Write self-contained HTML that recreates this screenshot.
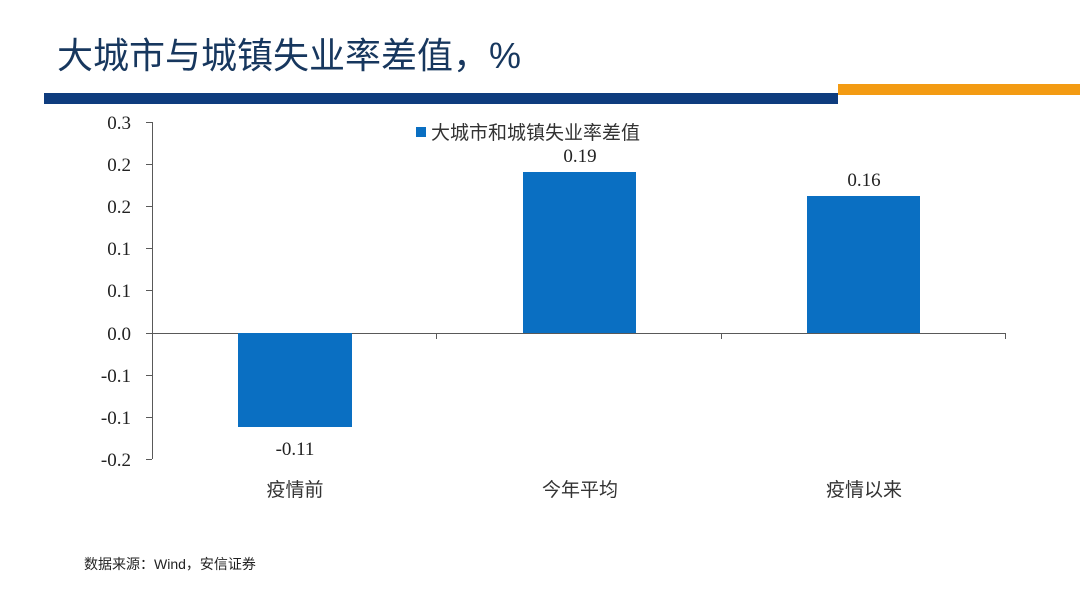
<!DOCTYPE html>
<html><head><meta charset="utf-8"><style>
body{margin:0;width:1080px;height:606px;background:#fff;overflow:hidden;font-family:"Liberation Serif","Noto Serif CJK SC",serif}
</style></head><body>
<svg width="1080" height="606" xmlns="http://www.w3.org/2000/svg">
<text x="57" y="68" font-family="Liberation Sans, Noto Sans CJK SC, sans-serif" font-size="36" fill="#17375e">大城市与城镇失业率差值，%</text>
<rect x="44" y="93" width="794" height="11" fill="#0e3c7e"/>
<rect x="838" y="84" width="242" height="11" fill="#f39b13"/>
<g stroke="#595959" stroke-width="1" fill="none">
<line x1="152.5" y1="122" x2="152.5" y2="459"/>
<line x1="146" y1="122.5" x2="152" y2="122.5"/>
<line x1="146" y1="164.5" x2="152" y2="164.5"/>
<line x1="146" y1="206.5" x2="152" y2="206.5"/>
<line x1="146" y1="248.5" x2="152" y2="248.5"/>
<line x1="146" y1="290.5" x2="152" y2="290.5"/>
<line x1="146" y1="333.5" x2="1005" y2="333.5"/>
<line x1="146" y1="375.5" x2="152" y2="375.5"/>
<line x1="146" y1="417.5" x2="152" y2="417.5"/>
<line x1="146" y1="459.5" x2="152" y2="459.5"/>
<line x1="436.5" y1="333" x2="436.5" y2="339"/>
<line x1="721.5" y1="333" x2="721.5" y2="339"/>
<line x1="1005.5" y1="333" x2="1005.5" y2="339"/>
</g>
<g font-size="19" fill="#222" text-anchor="end">
<text x="131" y="129">0.3</text><text x="131" y="171">0.2</text><text x="131" y="213">0.2</text>
<text x="131" y="255">0.1</text><text x="131" y="297">0.1</text><text x="131" y="340">0.0</text>
<text x="131" y="382">-0.1</text><text x="131" y="424">-0.1</text><text x="131" y="466">-0.2</text>
</g>
<rect x="238" y="333" width="114" height="94" fill="#0a6fc2"/>
<rect x="523" y="172" width="113" height="161" fill="#0a6fc2"/>
<rect x="807" y="196" width="113" height="137" fill="#0a6fc2"/>
<g font-size="19" fill="#222" text-anchor="middle">
<text x="295" y="455">-0.11</text><text x="580" y="162">0.19</text><text x="864" y="186">0.16</text>
</g>
<g font-size="19" fill="#333" text-anchor="middle" font-family="Liberation Sans, Noto Sans CJK SC, sans-serif">
<text x="295" y="496">疫情前</text><text x="580" y="496">今年平均</text><text x="864" y="496">疫情以来</text>
</g>
<rect x="416" y="127" width="10" height="10" fill="#0a6fc2"/>
<text x="431" y="139" font-size="19" fill="#333" font-family="Liberation Sans, Noto Sans CJK SC, sans-serif">大城市和城镇失业率差值</text>
<text x="84" y="569" font-size="14" fill="#222" font-family="Liberation Sans, Noto Sans CJK SC, sans-serif">数据来源：Wind，安信证券</text>
</svg>
</body></html>
